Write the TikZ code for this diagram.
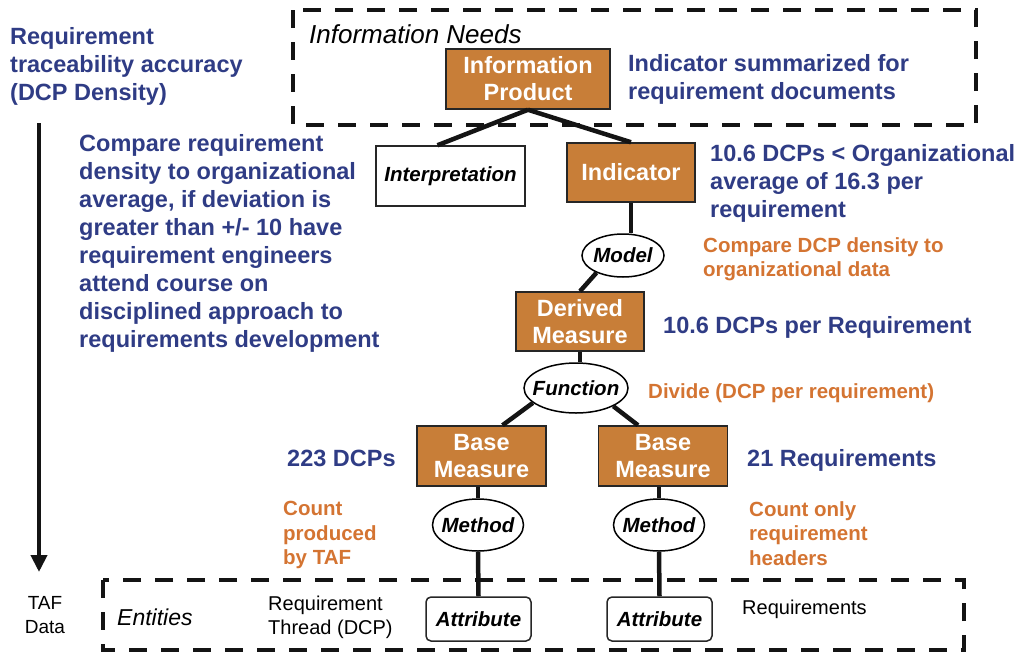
\documentclass[tikz,border=0pt]{standalone}
\usepackage{fontspec}
\setmainfont{Liberation Sans}
\usetikzlibrary{shapes.geometric,arrows.meta}
\definecolor{boxor}{RGB}{200,126,56}
\definecolor{txtblue}{RGB}{47,60,133}
\definecolor{txtor}{RGB}{212,116,50}
\begin{document}
\begin{tikzpicture}[x=1pt,y=-1pt,
  obox/.style={draw=black!85, line width=1.5pt, fill=boxor, text=white,
    font=\bfseries\fontsize{23.5}{27}\selectfont, align=center, inner sep=0pt},
  wbox/.style={draw=black!85, line width=1.5pt, fill=white, text=black,
    font=\bfseries\itshape\fontsize{20.5}{24}\selectfont, inner sep=0pt},
  ell/.style={ellipse, draw=black, line width=1.5pt, fill=white,
    font=\bfseries\itshape\fontsize{20.5}{24}\selectfont, inner sep=-20pt},
  conn/.style={line width=4.5pt, black!92},
  dashbox/.style={line width=4.5pt, black!92, dash pattern=on 18pt off 14pt},
  bluetxt/.style={anchor=north west, inner sep=0pt, align=left, text=txtblue,
    font=\bfseries\fontsize{23.5}{28}\selectfont},
  ortxt/.style={anchor=north west, inner sep=0pt, align=left, text=txtor,
    font=\bfseries\fontsize{20.5}{24.5}\selectfont},
  plaintxt/.style={inner sep=0pt, align=left, text=black,
    font=\fontsize{20}{24}\selectfont}
]
\useasboundingbox (0,0) rectangle (1019,653);

% dashed group frames
\draw[dashbox] (293,10) rectangle (976,125);
\draw[dashbox] (103,580) rectangle (964,650);

% nodes
\node[obox, minimum width=164pt, minimum height=60pt] (ip) at (528,79) {Information\\Product};
\node[wbox, minimum width=149pt, minimum height=60pt] (interp) at (450.5,176) {Interpretation};
\node[obox, minimum width=128pt, minimum height=59pt] (ind) at (631,172.5) {Indicator};
\node[ell, minimum width=82pt, minimum height=43pt] (model) at (623,255.5) {Model};
\node[obox, minimum width=128pt, minimum height=59pt] (dm) at (580,321.5) {Derived\\Measure};
\node[ell, minimum width=104pt, minimum height=50pt] (fn) at (576,388) {Function};
\node[obox, minimum width=129pt, minimum height=60pt] (bmL) at (481.5,456) {Base\\Measure};
\node[obox, minimum width=129pt, minimum height=60pt] (bmR) at (663,456) {Base\\Measure};
\node[ell, minimum width=91pt, minimum height=52pt] (mL) at (478,525) {Method};
\node[ell, minimum width=91pt, minimum height=52pt] (mR) at (659,525) {Method};
\node[wbox, rounded corners=5pt, minimum width=105pt, minimum height=44pt] (aL) at (478.5,619) {Attribute};
\node[wbox, rounded corners=5pt, minimum width=105pt, minimum height=44pt] (aR) at (659.5,619) {Attribute};

% connectors
\draw[conn] (ip.south) -- ([xshift=-13pt]interp.north);
\draw[conn] (ip.south) -- (ind.north);
\draw[conn] (ind.south) -- (ind.south |- model.north);
\draw[conn] (model.213) -- (dm.north);
\draw[conn] (dm.south) -- (dm.south |- fn.north);
\draw[conn] (fn.199) -- ([xshift=21pt]bmL.north);
\draw[conn] (fn.334) -- ([xshift=-25pt]bmR.north);
\draw[conn] (mL.north |- bmL.south) -- (mL.north);
\draw[conn] (mL.south) -- (aL.north);
\draw[conn] (mR.north |- bmR.south) -- (mR.north);
\draw[conn] (mR.south) -- (aR.north);

% left arrow
\coordinate (arrS) at (39,123);
\coordinate (arrE) at (39,572);
\draw[line width=4pt, black!92, -{Triangle[length=17pt,width=16pt]}] (arrS) -- (arrE);

% texts
\node[anchor=north west, inner sep=0pt, font=\itshape\fontsize{26}{30}\selectfont] (needs) at (309,24) {Information Needs};
\node[bluetxt] (title) at (10,27) {Requirement\\traceability accuracy\\(DCP Density)};
\node[bluetxt] (advice) at (79,134) {Compare requirement\\density to organizational\\average, if deviation is\\greater than +/- 10 have\\requirement engineers\\attend course on\\disciplined approach to\\requirements development};
\node[bluetxt] (ipnote) at (628,54) {Indicator summarized for\\requirement documents};
\node[bluetxt] (indnote) at (710,144) {10.6 DCPs < Organizational\\average of 16.3 per\\requirement};
\node[ortxt] (modnote) at (703,237) {Compare DCP density to\\organizational data};
\node[bluetxt] (dmnote) at (663,316) {10.6 DCPs per Requirement};
\node[ortxt] (fnnote) at (648,383) {Divide (DCP per requirement)};
\node[bluetxt] (bmLnote) at (287,450) {223 DCPs};
\node[bluetxt] (bmRnote) at (747,449) {21 Requirements};
\node[ortxt] (mLnote) at (283,501) {Count\\produced\\by TAF};
\node[ortxt] (mRnote) at (749,501) {Count only\\requirement\\headers};
\node[plaintxt, align=center, anchor=north, font=\fontsize{19}{24}\selectfont] (taf) at (45,596) {TAF\\Data};
\node[anchor=north west, inner sep=0pt, font=\itshape\fontsize{23}{27}\selectfont] (ent) at (117,609) {Entities};
\node[plaintxt, anchor=north west] (thread) at (268,596) {Requirement\\Thread (DCP)};
\node[plaintxt, anchor=north west] (reqs) at (742,600) {Requirements};
\end{tikzpicture}
\end{document}
